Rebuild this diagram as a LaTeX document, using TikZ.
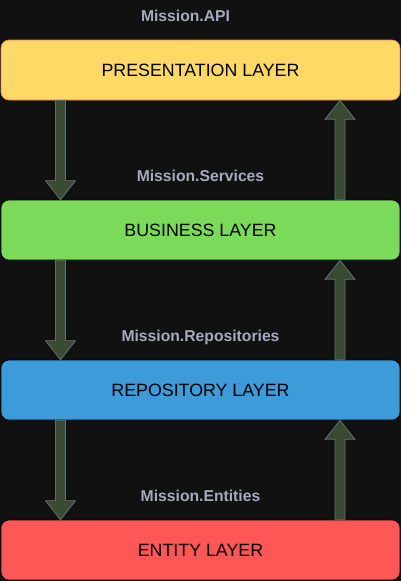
\documentclass[tikz,border=0pt]{standalone}
\usepackage{fontspec}
\setmainfont{Liberation Sans}
\usetikzlibrary{positioning,calc}
\definecolor{bgdark}{HTML}{111111}
\definecolor{presyellow}{HTML}{FFD966}
\definecolor{presline}{HTML}{E8806A}
\definecolor{busgreen}{HTML}{7BDA5A}
\definecolor{repoblue}{HTML}{3D9BDA}
\definecolor{entred}{HTML}{FF5656}
\definecolor{lblgray}{HTML}{A8AABA}
\definecolor{arrowgreen}{HTML}{3A4A33}
\definecolor{arrowline}{HTML}{607070}

\begin{document}
\begin{tikzpicture}[x=1pt,y=-1pt,
  layer/.style={rounded corners=8pt,minimum width=399pt,minimum height=60pt,line width=0.6pt,
    font=\fontsize{17.8}{20}\selectfont,text=black},
  lbl/.style={font=\fontsize{15.7}{18}\selectfont\bfseries,text=lblgray,inner sep=0pt,
    text height=11.5pt,text depth=0pt},
  blk/.style={fill=arrowgreen,draw=arrowline,line width=0.8pt}]
\fill[bgdark] (0,0) rectangle (401,581);
\useasboundingbox (0,0) rectangle (401,581);
% layers
\node[layer,fill=presyellow,draw=presline] (pres) at (200.5,70) {PRESENTATION LAYER};
\node[layer,fill=busgreen,draw=black] (bus) at (200.5,230) {BUSINESS LAYER};
\node[layer,fill=repoblue,draw=black] (repo) at (200.5,390) {REPOSITORY LAYER};
\node[layer,fill=entred,draw=black] (ent) at (200.5,550) {ENTITY LAYER};
% project names
\node[lbl,above=18.3pt of pres,xshift=-15pt] (api) {Mission.API};
\node[lbl,above=18.3pt of bus] (services) {Mission.Services};
\node[lbl,above=18.3pt of repo] (repos) {Mission.Repositories};
\node[lbl,above=18.3pt of ent] (entities) {Mission.Entities};
% block arrows
\coordinate (L) at (60.5,0);
\coordinate (R) at (340,0);
\foreach \a/\b in {pres/bus,bus/repo,repo/ent}{
  \draw[blk] ($(\a.south -| L)+(-5,0)$) -- ($(\a.south -| L)+(5,0)$) -- ($(\b.north -| L)+(5,-19)$)
    -- ($(\b.north -| L)+(15,-19)$) -- (\b.north -| L) -- ($(\b.north -| L)+(-15,-19)$)
    -- ($(\b.north -| L)+(-5,-19)$) -- cycle;
  \draw[blk] ($(\b.north -| R)+(-5,0)$) -- ($(\b.north -| R)+(5,0)$) -- ($(\a.south -| R)+(5,19)$)
    -- ($(\a.south -| R)+(15,19)$) -- (\a.south -| R) -- ($(\a.south -| R)+(-15,19)$)
    -- ($(\a.south -| R)+(-5,19)$) -- cycle;
}
\end{tikzpicture}
\end{document}
